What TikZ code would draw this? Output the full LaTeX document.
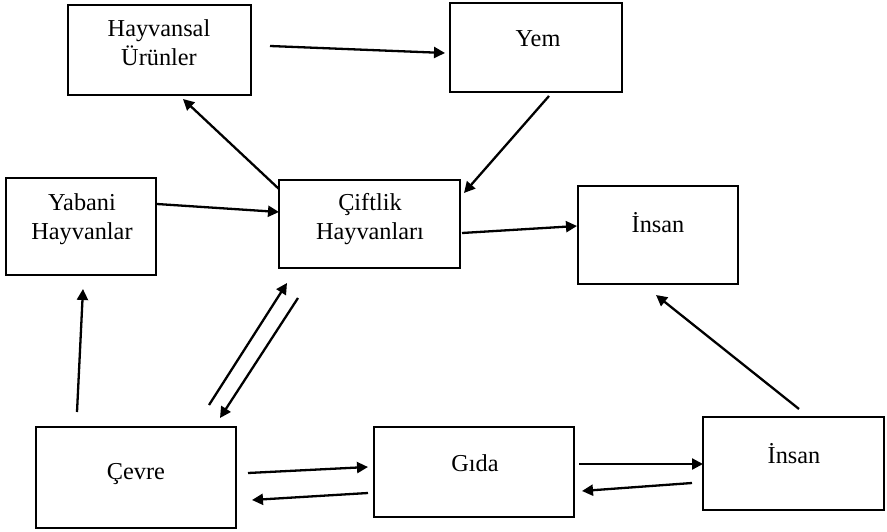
\documentclass[tikz,border=0pt]{standalone}
\usepackage{fontspec}
\setmainfont{Liberation Serif}
\usetikzlibrary{calc,arrows.meta}
\begin{document}
\begin{tikzpicture}[x=1pt,y=-1pt,
  box/.style={draw,line width=1.8pt,rectangle,inner sep=0pt},
  lbl/.style={anchor=base,inner sep=0pt,font=\fontsize{24.3}{29}\selectfont},
  arr/.style={line width=2.3pt,-{Triangle[length=11pt,width=11pt]}}]
\useasboundingbox (0,0) rectangle (887,532);
% boxes
\node[box,minimum width=183.2pt,minimum height=90.2pt] (hay) at (159.5,50) {};
\node[box,minimum width=172.2pt,minimum height=89.2pt] (yem) at (536,47.5) {};
\node[box,minimum width=150.2pt,minimum height=97.2pt] (yab) at (81,226.5) {};
\node[box,minimum width=181.2pt,minimum height=88.2pt] (cif) at (369.5,224) {};
\node[box,minimum width=160.2pt,minimum height=98.2pt] (ins1) at (658,235) {};
\node[box,minimum width=200.2pt,minimum height=101.2pt] (cev) at (136,477.5) {};
\node[box,minimum width=200.2pt,minimum height=90.2pt] (gida) at (474,472) {};
\node[box,minimum width=181.2pt,minimum height=93.2pt] (ins2) at (793.5,463.5) {};
% labels
\node[lbl] (hayA) at (159,37) {Hayvansal};
\node[lbl] (hayB) at (159,66) {Ürünler};
\node[lbl] (yemT) at (538,47) {Yem};
\node[lbl] (yabA) at (82,211) {Yabani};
\node[lbl] (yabB) at (82,240) {Hayvanlar};
\node[lbl] (cifA) at (370,211) {Çiftlik};
\node[lbl] (cifB) at (370,240) {Hayvanları};
\node[lbl] (ins1T) at (658,233) {İnsan};
\node[lbl] (cevT) at (136,479) {Çevre};
\node[lbl] (gidaT) at (475,471) {Gıda};
\node[lbl] (ins2T) at (794,463) {İnsan};
% connectors
\draw[arr] ($(hay.east)+(18,-4)$) -- ($(yem.west)+(-4,5.5)$);
\draw[arr] ($(cif.north west)+(1,10)$) -- ($(hay.south)+(23.5,3)$);
\draw[arr] ($(yab.east)+(0,-22.5)$) -- ($(cif.west)+(1,-12)$);
\draw[arr] ($(yem.south)+(13,3)$) -- ($(cif.north east)+(3,14)$);
\draw[arr] ($(cif.east)+(1,9)$) -- ($(ins1.west)+(0,-9)$);
\draw[arr] ($(cev.north)+(-59,-14)$) -- ($(yab.south)+(2,13)$);
\draw[arr] ($(cev.north east)+(-28,-21)$) -- ($(cif.south west)+(9,14)$);
\draw[arr] ($(cif.south west)+(20,29)$) -- ($(cev.north east)+(-17,-8)$);
\draw[arr] ($(cev.east)+(11,-4.5)$) -- ($(gida.west)+(-5,-5)$);
\draw[arr] ($(gida.west)+(-5,21)$) -- ($(cev.east)+(15,22.5)$);
\draw[arr] ($(gida.east)+(4,-8)$) -- ($(ins2.west)+(1,0.5)$);
\draw[arr] ($(ins2.west)+(-10,19.5)$) -- ($(gida.east)+(7,19)$);
\draw[arr] ($(ins2.north)+(5.5,-7)$) -- ($(ins1.south)+(-2,10)$);
\end{tikzpicture}
\end{document}
